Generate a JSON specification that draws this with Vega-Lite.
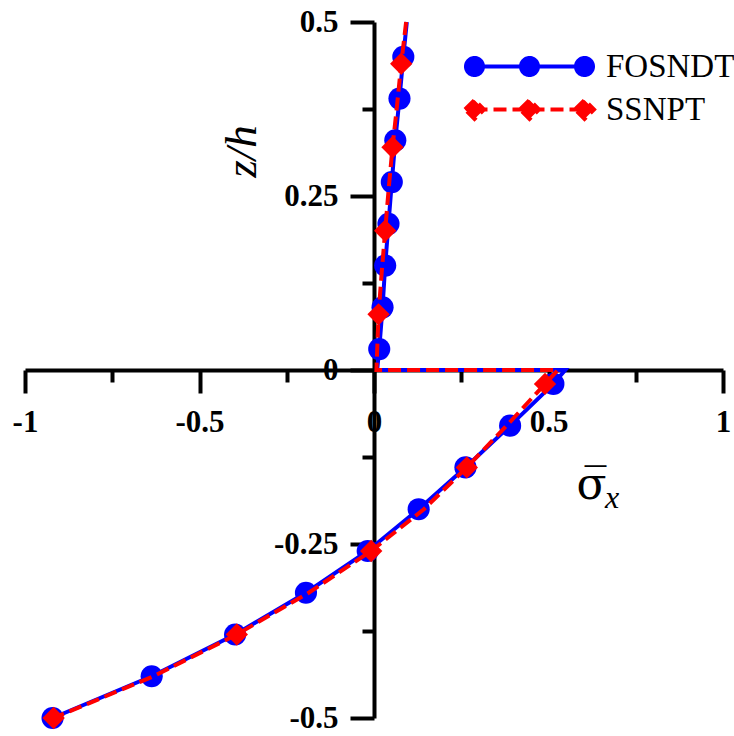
{
  "$schema": "https://vega.github.io/schema/vega-lite/v6.json",
  "width": 698,
  "height": 696,
  "autosize": "none",
  "padding": {"left": 25, "top": 22, "right": 11, "bottom": 18},
  "background": "white",
  "title": {
    "text": "x",
    "font": "Liberation Serif",
    "fontStyle": "italic",
    "fontWeight": "normal",
    "fontSize": 32,
    "color": "black",
    "anchor": "start",
    "align": "left",
    "orient": "top",
    "frame": "group",
    "baseline": "alphabetic",
    "offset": 0,
    "dx": 580,
    "dy": 534
  },
  "config": {
    "view": {"stroke": null},
    "axis": {
      "domainColor": "black",
      "domainWidth": 4,
      "tickColor": "black",
      "tickWidth": 4,
      "labelFont": "Liberation Serif",
      "labelFontWeight": "bold",
      "labelFontSize": 31,
      "labelColor": "black",
      "grid": false,
      "labelOverlap": false,
      "labelFlush": false,
      "titleColor": "black"
    },
    "legend": {
      "labelFont": "Liberation Serif",
      "labelFontSize": 33,
      "labelFontWeight": "normal",
      "labelColor": "black"
    }
  },
  "datasets": {
    "curves": [
      {"series": "FOSNDT", "i": 0, "z": 0.5, "s": 0.094},
      {"series": "FOSNDT", "i": 1, "z": 0.45, "s": 0.084},
      {"series": "FOSNDT", "i": 2, "z": 0.39, "s": 0.073},
      {"series": "FOSNDT", "i": 3, "z": 0.33, "s": 0.061},
      {"series": "FOSNDT", "i": 4, "z": 0.27, "s": 0.051},
      {"series": "FOSNDT", "i": 5, "z": 0.21, "s": 0.0415},
      {"series": "FOSNDT", "i": 6, "z": 0.15, "s": 0.032},
      {"series": "FOSNDT", "i": 7, "z": 0.09, "s": 0.0245},
      {"series": "FOSNDT", "i": 8, "z": 0.03, "s": 0.015},
      {"series": "FOSNDT", "i": 9, "z": 0.0, "s": 0.009},
      {"series": "FOSNDT", "i": 10, "z": 0.0, "s": 0.548},
      {"series": "FOSNDT", "i": 11, "z": -0.02, "s": 0.514},
      {"series": "FOSNDT", "i": 12, "z": -0.08, "s": 0.39},
      {"series": "FOSNDT", "i": 13, "z": -0.14, "s": 0.262},
      {"series": "FOSNDT", "i": 14, "z": -0.2, "s": 0.128},
      {"series": "FOSNDT", "i": 15, "z": -0.26, "s": -0.018},
      {"series": "FOSNDT", "i": 16, "z": -0.32, "s": -0.195},
      {"series": "FOSNDT", "i": 17, "z": -0.38, "s": -0.398},
      {"series": "FOSNDT", "i": 18, "z": -0.44, "s": -0.637},
      {"series": "FOSNDT", "i": 19, "z": -0.5, "s": -0.921},
      {"series": "SSNPT", "i": 0, "z": 0.5, "s": 0.092},
      {"series": "SSNPT", "i": 1, "z": 0.44, "s": 0.078},
      {"series": "SSNPT", "i": 2, "z": 0.38, "s": 0.066},
      {"series": "SSNPT", "i": 3, "z": 0.32, "s": 0.053},
      {"series": "SSNPT", "i": 4, "z": 0.26, "s": 0.042},
      {"series": "SSNPT", "i": 5, "z": 0.2, "s": 0.032},
      {"series": "SSNPT", "i": 6, "z": 0.14, "s": 0.022},
      {"series": "SSNPT", "i": 7, "z": 0.08, "s": 0.013},
      {"series": "SSNPT", "i": 8, "z": 0.0, "s": 0.007},
      {"series": "SSNPT", "i": 9, "z": 0.0, "s": 0.527},
      {"series": "SSNPT", "i": 10, "z": -0.02, "s": 0.49},
      {"series": "SSNPT", "i": 11, "z": -0.08, "s": 0.38},
      {"series": "SSNPT", "i": 12, "z": -0.14, "s": 0.266},
      {"series": "SSNPT", "i": 13, "z": -0.2, "s": 0.143},
      {"series": "SSNPT", "i": 14, "z": -0.26, "s": -0.008},
      {"series": "SSNPT", "i": 15, "z": -0.32, "s": -0.187},
      {"series": "SSNPT", "i": 16, "z": -0.38, "s": -0.393},
      {"series": "SSNPT", "i": 17, "z": -0.44, "s": -0.632},
      {"series": "SSNPT", "i": 18, "z": -0.5, "s": -0.918}
    ],
    "markers": [
      {"series": "FOSNDT", "z": 0.45, "s": 0.084},
      {"series": "FOSNDT", "z": 0.39, "s": 0.073},
      {"series": "FOSNDT", "z": 0.33, "s": 0.061},
      {"series": "FOSNDT", "z": 0.27, "s": 0.051},
      {"series": "FOSNDT", "z": 0.21, "s": 0.0415},
      {"series": "FOSNDT", "z": 0.15, "s": 0.032},
      {"series": "FOSNDT", "z": 0.09, "s": 0.0245},
      {"series": "FOSNDT", "z": 0.03, "s": 0.015},
      {"series": "FOSNDT", "z": -0.02, "s": 0.514},
      {"series": "FOSNDT", "z": -0.08, "s": 0.39},
      {"series": "FOSNDT", "z": -0.14, "s": 0.262},
      {"series": "FOSNDT", "z": -0.2, "s": 0.128},
      {"series": "FOSNDT", "z": -0.26, "s": -0.018},
      {"series": "FOSNDT", "z": -0.32, "s": -0.195},
      {"series": "FOSNDT", "z": -0.38, "s": -0.398},
      {"series": "FOSNDT", "z": -0.44, "s": -0.637},
      {"series": "FOSNDT", "z": -0.5, "s": -0.921},
      {"series": "SSNPT", "z": 0.44, "s": 0.078},
      {"series": "SSNPT", "z": 0.32, "s": 0.053},
      {"series": "SSNPT", "z": 0.2, "s": 0.032},
      {"series": "SSNPT", "z": 0.08, "s": 0.013},
      {"series": "SSNPT", "z": -0.02, "s": 0.49},
      {"series": "SSNPT", "z": -0.14, "s": 0.266},
      {"series": "SSNPT", "z": -0.26, "s": -0.008},
      {"series": "SSNPT", "z": -0.38, "s": -0.393},
      {"series": "SSNPT", "z": -0.5, "s": -0.918}
    ]
  },
  "layer": [
    {
      "data": {"name": "curves"},
      "transform": [{"filter": "datum.series == 'FOSNDT'"}],
      "mark": {"type": "line", "color": "#0000ff", "strokeWidth": 4},
      "encoding": {
        "x": {
          "field": "s", "type": "quantitative",
          "scale": {"domain": [-1, 1], "nice": false, "zero": false},
          "axis": {
            "orient": "bottom",
            "offset": -348,
            "values": [-1, -0.75, -0.5, -0.25, 0, 0.25, 0.5, 0.75, 1],
            "tickSize": {"condition": {"test": "abs(round(datum.value*4))%2==0", "value": 23}, "value": 12},
            "labelExpr": "abs(round(datum.value*4))%2==0 ? toString(datum.value) : ''",
            "labelPadding": 14,
            "title": "σ̅",
            "titleFont": "DejaVu Serif",
            "titleFontWeight": "normal",
            "titleFontSize": 44,
            "titleX": 566,
            "titleY": 128,
            "titleAlign": "center",
            "titleBaseline": "alphabetic",
            "titleAngle": 0
          }
        },
        "y": {
          "field": "z", "type": "quantitative",
          "scale": {"domain": [-0.5, 0.5], "nice": false, "zero": false},
          "axis": {
            "orient": "left",
            "offset": -349,
            "values": [-0.5, -0.375, -0.25, -0.125, 0, 0.125, 0.25, 0.375, 0.5],
            "tickSize": {"condition": {"test": "abs(round(datum.value*8))%2==0", "value": 24}, "value": 12},
            "labelExpr": "abs(round(datum.value*8))%2==0 ? toString(datum.value) : ''",
            "labelPadding": 12,
            "title": "z/h",
            "titleFont": "Liberation Serif",
            "titleFontStyle": "italic",
            "titleFontWeight": "normal",
            "titleFontSize": 45,
            "titleX": -133,
            "titleY": 129,
            "titleAngle": 270,
            "titleAlign": "center",
            "titleBaseline": "middle"
          }
        },
        "order": {"field": "i", "type": "quantitative"}
      }
    },
    {
      "data": {"name": "markers"},
      "transform": [{"filter": "datum.series == 'FOSNDT'"}],
      "mark": {"type": "point", "shape": "circle", "filled": true, "size": 490, "color": "#0000ff", "opacity": 1},
      "encoding": {
        "x": {"field": "s", "type": "quantitative"},
        "y": {"field": "z", "type": "quantitative"}
      }
    },
    {
      "data": {"name": "curves"},
      "transform": [{"filter": "datum.series == 'SSNPT'"}],
      "mark": {"type": "line", "color": "#ff0000", "strokeWidth": 4, "strokeDash": [13, 6]},
      "encoding": {
        "x": {"field": "s", "type": "quantitative"},
        "y": {"field": "z", "type": "quantitative"},
        "order": {"field": "i", "type": "quantitative"}
      }
    },
    {
      "data": {"name": "markers"},
      "transform": [{"filter": "datum.series == 'SSNPT'"}],
      "mark": {"type": "point", "shape": "diamond", "filled": true, "size": 500, "color": "#ff0000", "opacity": 1},
      "encoding": {
        "x": {"field": "s", "type": "quantitative"},
        "y": {"field": "z", "type": "quantitative"}
      }
    },
    {
      "data": {"name": "markers"},
      "mark": {"type": "point", "opacity": 0, "size": 400, "strokeWidth": 4},
      "encoding": {
        "x": {"field": "s", "type": "quantitative"},
        "y": {"field": "z", "type": "quantitative"},
        "fill": {
          "field": "series", "type": "nominal",
          "scale": {"domain": ["FOSNDT", "SSNPT"], "range": ["#0000ff", "#ff0000"]},
          "legend": {"orient": "none", "legendX": 488, "legendY": 28, "title": null, "symbolSize": 400, "symbolStrokeWidth": 4, "symbolOpacity": 1, "labelFont": "Liberation Serif", "labelFontSize": 33, "labelColor": "black", "labelOffset": 60, "rowPadding": 8, "labelLimit": 300}
        },
        "stroke": {
          "field": "series", "type": "nominal",
          "scale": {"domain": ["FOSNDT", "SSNPT"], "range": ["#0000ff", "#ff0000"]},
          "legend": {"orient": "none", "legendX": 488, "legendY": 28, "title": null, "symbolSize": 400, "symbolStrokeWidth": 4, "symbolOpacity": 1, "labelFont": "Liberation Serif", "labelFontSize": 33, "labelColor": "black", "labelOffset": 60, "rowPadding": 8, "labelLimit": 300}
        },
        "shape": {
          "field": "series", "type": "nominal",
          "scale": {"domain": ["FOSNDT", "SSNPT"], "range": [
            "M-5.5,0L5.5,0M-4.65,0A0.85,0.85 0 1,1 -6.35,0A0.85,0.85 0 1,1 -4.65,0ZM0.85,0A0.85,0.85 0 1,1 -0.85,0A0.85,0.85 0 1,1 0.85,0ZM6.35,0A0.85,0.85 0 1,1 4.65,0A0.85,0.85 0 1,1 6.35,0Z",
            "M-5.5,0L5.5,0M-6.45,0L-5.5,-0.95L-4.55,0L-5.5,0.95ZM-0.95,0L0,-0.95L0.95,0L0,0.95ZM4.55,0L5.5,-0.95L6.45,0L5.5,0.95Z"
          ]},
          "legend": {"orient": "none", "legendX": 488, "legendY": 28, "title": null, "symbolSize": 400, "symbolStrokeWidth": 4, "symbolOpacity": 1, "labelFont": "Liberation Serif", "labelFontSize": 33, "labelColor": "black", "labelOffset": 60, "rowPadding": 8, "labelLimit": 300}
        },
        "strokeDash": {
          "field": "series", "type": "nominal",
          "scale": {"domain": ["FOSNDT", "SSNPT"], "range": [[1, 0], [13, 6]]},
          "legend": {"orient": "none", "legendX": 488, "legendY": 28, "title": null, "symbolSize": 400, "symbolStrokeWidth": 4, "symbolOpacity": 1, "labelFont": "Liberation Serif", "labelFontSize": 33, "labelColor": "black", "labelOffset": 60, "rowPadding": 8, "labelLimit": 300}
        }
      }
    }
  ]
}
